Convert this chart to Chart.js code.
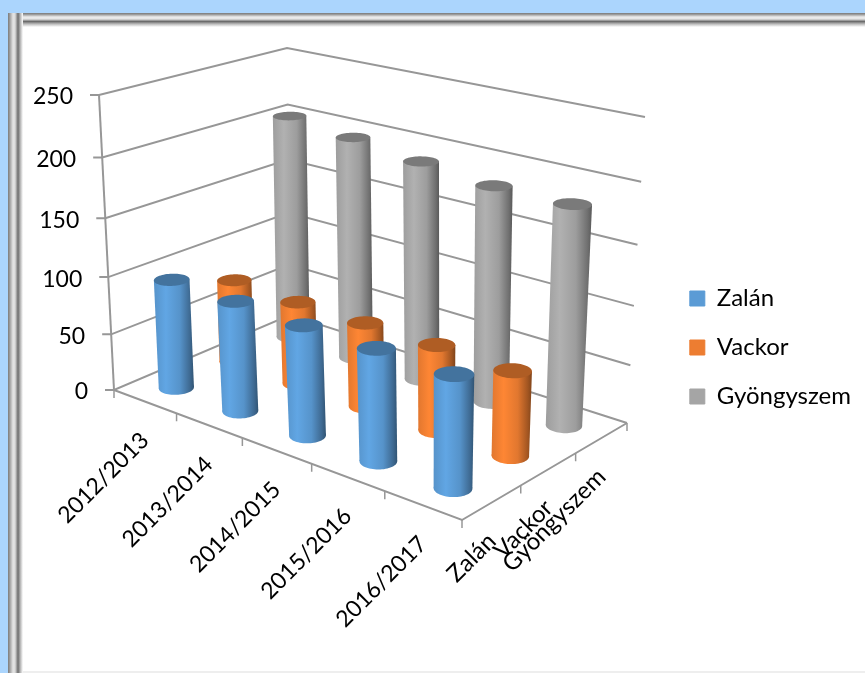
<!DOCTYPE html>
<html lang="hu">
<head>
<meta charset="utf-8">
<title>Chart</title>
<script src="https://cdn.jsdelivr.net/npm/chart.js@4"></script>
<style>
html,body{margin:0;padding:0;width:865px;height:673px;overflow:hidden;background:#abd5fd}
#panel{position:absolute;left:8px;top:13px;right:0;bottom:0;background:#fff}
#panel .t{position:absolute;left:0;right:0;top:0;height:14px;background:linear-gradient(to bottom,#7c7c7c 0,#8c8c8c 1px,#ececec 4px,#e4e4e4 6px,#6c6c6c 8.5px,#bbb 11px,#fff 14px)}
#panel .l{position:absolute;left:0;top:0;bottom:0;width:15px;background:linear-gradient(to right,#7c7c7c 0,#8c8c8c 1px,#e4e4e4 5px,#dcdcdc 7px,#6c6c6c 10px,#bbb 12.5px,#fff 15px)}
#panel .b{position:absolute;left:15px;right:0;bottom:0;height:2px;background:#eee}
canvas{position:absolute;left:0;top:0}
</style>
</head>
<body>
<div id="panel"><div class="t"></div><div class="l"></div><div class="b"></div></div>
<canvas id="c" width="865" height="673"></canvas>
<script>
const categories = ['2012/2013','2013/2014','2014/2015','2015/2016','2016/2017'];
const seriesNames = ['Zalán','Vackor','Gyöngyszem'];
const zalan = [96,95,93,93,92];
const vackor = [75,73,73,73,71];
const gyongyszem = [203,197,190,184,184];
const yTicks = [0,50,100,150,200,250];
const seriesColors = ['#5B9BD5','#ED7D31','#A5A5A5'];

const seriesValues = [zalan,vackor,gyongyszem];
const VMAX = 250, NU = categories.length, NV = seriesNames.length, RADIUS = 0.2, PERSP = 0.93;
const FONT = 'Lato';

// Corners of the floor and of the 250-level plane of the 3D box
const floorQuad = [[114,390],[462,520],[627,423],[290,315]];
const topQuad   = [[99,95],[467,187],[645,117],[287,48]];

function homography(q){
  const [x0,y0]=q[0],[x1,y1]=q[1],[x2,y2]=q[2],[x3,y3]=q[3];
  const dx1=x1-x2,dx2=x3-x2,sx=x0-x1+x2-x3,dy1=y1-y2,dy2=y3-y2,sy=y0-y1+y2-y3;
  const den=dx1*dy2-dx2*dy1;
  const g=(sx*dy2-dx2*sy)/den,h=(dx1*sy-sx*dy1)/den;
  const a=x1-x0+g*x1,b=x3-x0+h*x3,c=x0,d=y1-y0+g*y1,e=y3-y0+h*y3,f=y0;
  return (s,t)=>{const w=g*s+h*t+1;return [(a*s+b*t+c)/w,(d*s+e*t+f)/w];};
}
const H0=homography(floorQuad), H1=homography(topQuad);
function project(u,v,val){
  const s=u/NU,t=v/NV,r=val/VMAX,k=r*PERSP/(1+(PERSP-1)*r),p=H0(s,t),q=H1(s,t);
  return {x:p[0]+(q[0]-p[0])*k,y:p[1]+(q[1]-p[1])*k};
}
function shade(hex,f){
  const n=parseInt(hex.slice(1),16);
  const c=[n>>16,(n>>8)&255,n&255].map(x=>Math.min(255,Math.round(x*f)));
  return `rgb(${c[0]},${c[1]},${c[2]})`;
}

const LINE='#979797';
function lineDataset(points,width){
  return {type:'scatter',showLine:true,data:points,borderColor:LINE,borderWidth:width||2,
          pointRadius:0,fill:false,tension:0};
}
const datasets=seriesNames.map((name,s)=>({
  type:'scatter',label:name,showLine:false,pointRadius:0,
  backgroundColor:seriesColors[s],borderColor:seriesColors[s],
  data:seriesValues[s].map((val,i)=>project(i+0.5,s+0.5,val))
}));
yTicks.forEach(val=>{
  const a=project(0,0,val),b=project(0,NV,val),c=project(NU,NV,val);
  datasets.push(lineDataset([{x:a.x-9,y:a.y},a,b,c]));
});
datasets.push(lineDataset([project(0,0,0),project(0,0,VMAX)]));
datasets.push(lineDataset([project(0,0,0),project(NU,0,0),project(NU,NV,0)]));
for(let i=0;i<=NU;i++){const p=project(i,0,0);datasets.push(lineDataset([p,{x:p.x,y:p.y+8}],1.5));}
for(let j=1;j<=NV;j++){const p=project(NU,j,0);datasets.push(lineDataset([p,{x:p.x,y:p.y+8}],1.5));}

const cylinders={
  id:'cylinders',
  afterDatasetsDraw(chart){
    const ctx=chart.ctx,sx=chart.scales.x,sy=chart.scales.y;
    const ring=(u,v,val)=>{
      const out=[];
      for(let k=0;k<64;k++){
        const a=k/64*2*Math.PI,p=project(u+RADIUS*Math.cos(a),v+RADIUS*Math.sin(a),val);
        out.push({x:sx.getPixelForValue(p.x),y:sy.getPixelForValue(p.y)});
      }
      return out;
    };
    const poly=pts=>{ctx.beginPath();pts.forEach((p,i)=>i?ctx.lineTo(p.x,p.y):ctx.moveTo(p.x,p.y));ctx.closePath();};
    const ext=(pts,sign)=>pts.reduce((m,p)=>(p.x*sign>m.x*sign?p:m),pts[0]);
    for(let s=NV-1;s>=0;s--){
      const col=seriesColors[s];
      for(let i=0;i<NU;i++){
        const val=seriesValues[s][i];
        const top=ring(i+0.5,s+0.5,val),base=ring(i+0.5,s+0.5,0);
        const tl=ext(top,-1),tr=ext(top,1),bl=ext(base,-1),br=ext(base,1);
        const g=ctx.createLinearGradient(Math.min(tl.x,bl.x),0,Math.max(tr.x,br.x),0);
        [[0,.95],[.3,1.07],[.65,.95],[.9,.68],[1,.54]].forEach(d=>g.addColorStop(d[0],shade(col,d[1])));
        ctx.fillStyle=g;
        poly(base);ctx.fill();
        ctx.beginPath();ctx.moveTo(tl.x,tl.y);ctx.lineTo(bl.x,bl.y);ctx.lineTo(br.x,br.y);ctx.lineTo(tr.x,tr.y);ctx.closePath();ctx.fill();
        ctx.fillStyle=shade(col,.74);poly(top);ctx.fill();
      }
    }
    // axis texts
    ctx.save();
    ctx.fillStyle='#000';
    ctx.textBaseline='middle';ctx.textAlign='right';
    ctx.font=`23px ${FONT}`;
    yTicks.forEach(val=>{
      const p=project(0,0,val);
      ctx.fillText(String(val),sx.getPixelForValue(p.x-26),sy.getPixelForValue(p.y+2));
    });
    const rotated=(txt,p)=>{
      ctx.save();ctx.translate(sx.getPixelForValue(p.x),sy.getPixelForValue(p.y+35));
      ctx.rotate(-Math.PI/4);ctx.fillText(txt,0,0);ctx.restore();
    };
    categories.forEach((c,i)=>rotated(c,project(i+0.5,0,0)));
    ctx.font=`24px ${FONT}`;
    seriesNames.forEach((n,j)=>rotated(n,project(NU,j+0.5,0)));
    ctx.restore();
  }
};

new Chart(document.getElementById('c'),{
  type:'scatter',
  data:{datasets},
  plugins:[cylinders],
  options:{
    responsive:false,animation:false,
    layout:{padding:{top:22,left:0,right:4,bottom:0}},
    scales:{
      x:{type:'linear',display:false,bounds:'data',
         afterDataLimits(s){s.min=0;s.max=s.width;}},
      y:{type:'linear',display:false,bounds:'data',reverse:true,
         afterDataLimits(s){s.min=22;s.max=22+s.height;}}
    },
    plugins:{
      tooltip:{enabled:false},
      legend:{position:'right',
        labels:{boxWidth:15,boxHeight:15,padding:25,color:'#000',font:{family:FONT,size:24},
          filter:it=>it.datasetIndex<3}}
    }
  }
});
</script>
</body>
</html>
